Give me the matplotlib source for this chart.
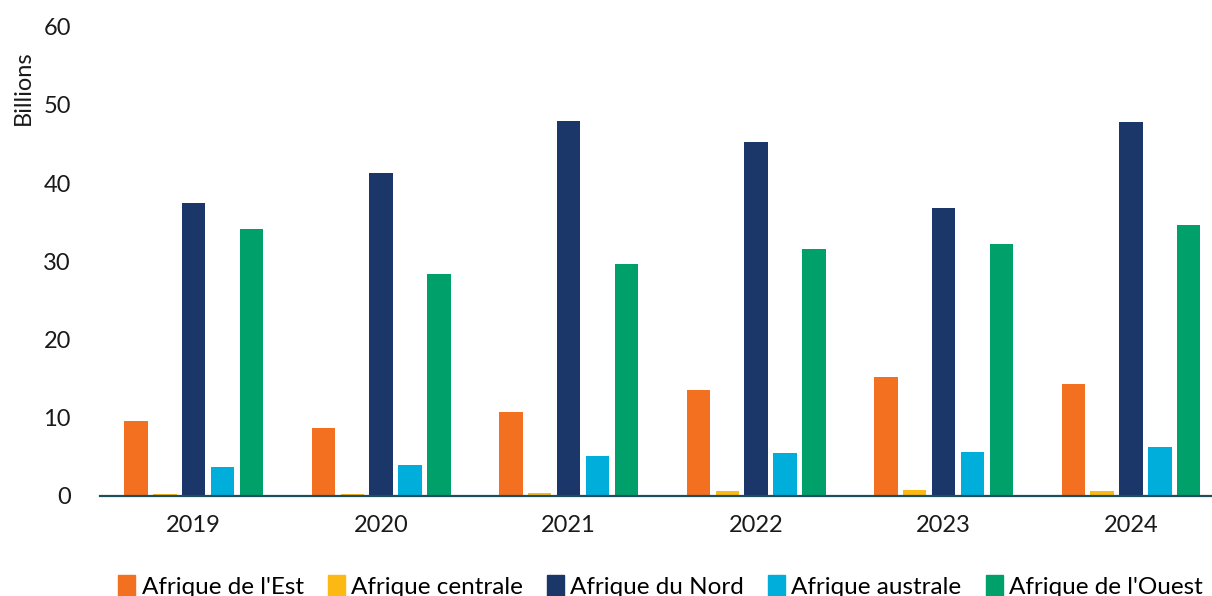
import numpy as np
import matplotlib
matplotlib.use('Agg')
import matplotlib.pyplot as plt
from matplotlib.patches import Patch

plt.rcParams['font.family'] = ['Lato', 'DejaVu Sans']

# data (billions)
years = ['2019', '2020', '2021', '2022', '2023', '2024']
regions = ["Afrique de l'Est", 'Afrique centrale', 'Afrique du Nord',
           'Afrique australe', "Afrique de l'Ouest"]
est      = [9.6, 8.7, 10.7, 13.6, 15.2, 14.3]
centrale = [0.25, 0.25, 0.4, 0.6, 0.8, 0.6]
nord     = [37.5, 41.3, 48.0, 45.3, 36.8, 47.8]
australe = [3.7, 4.0, 5.1, 5.5, 5.6, 6.3]
ouest    = [34.1, 28.4, 29.7, 31.6, 32.2, 34.7]

series = [est, centrale, nord, australe, ouest]
colors = ['#F37021', '#FDB913', '#1B3668', '#00AEDB', '#00A06B']

fig = plt.figure(figsize=(12.12, 5.96), dpi=100)
ax = fig.add_axes([0.0825, 0.168, 0.928, 0.787])

x = np.arange(len(years))
step = 0.154
width = 0.125
for i, (vals, c) in enumerate(zip(series, colors)):
    ax.bar(x + (i - 2) * step, vals, width=width, color=c, label=regions[i])

ax.set_xlim(-0.5, 5.5)
ax.set_ylim(0, 60)
ax.set_yticks(range(0, 61, 10))
ax.set_xticks(x)
ax.set_xticklabels(years)
ax.tick_params(axis='both', length=0, labelsize=17, colors='#1a1a1a')
ax.tick_params(axis='y', pad=21)
ax.tick_params(axis='x', pad=14)
for s in ['top', 'right', 'left']:
    ax.spines[s].set_visible(False)
ax.spines['bottom'].set_color('#1F4E5F')
ax.spines['bottom'].set_linewidth(1.6)

fig.text(0.019, 1 - 88 / 596, 'Billions', rotation=90, va='center',
         ha='center', fontsize=17, color='#1a1a1a')

handles = [Patch(color=c) for c in colors]
fig.legend(handles, regions, loc='lower center', bbox_to_anchor=(0.545, -0.04),
           ncol=5, frameon=False, fontsize=17.5, handlelength=0.7,
           handleheight=1.0, handletextpad=0.25, columnspacing=1.0)

fig.savefig('out.png', dpi=100)
